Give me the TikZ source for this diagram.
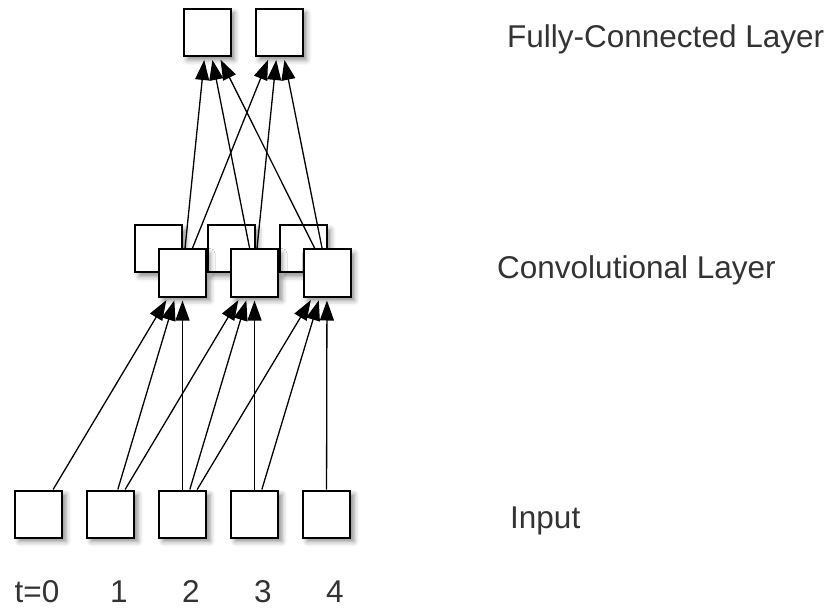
\documentclass[tikz,border=0pt]{standalone}
\usepackage{fontspec}
\setmainfont{Liberation Sans}
\usetikzlibrary{arrows.meta,shadows.blur}
\tikzset{
  unit_n/.style = {rectangle, draw=black, fill=white, line width=2pt, inner sep=0pt, minimum size=47pt,
    blur shadow={shadow xshift=4pt, shadow yshift=-4pt, shadow blur radius=5pt, shadow opacity=45}},
  link/.style = {-{Triangle[length=20pt,width=14pt]}, line width=1.3pt, shorten >=3pt},
  layer_lbl/.style = {anchor=base west, inner sep=0pt, font=\fontsize{31.5}{31.5}\selectfont, text=black!80},
  step_lbl/.style = {anchor=base, inner sep=0pt, font=\fontsize{31.5}{31.5}\selectfont, text=black!80}
}

\begin{document}
\begin{tikzpicture}[x=1pt, y=-1pt]
	\useasboundingbox (0,0) rectangle (834,609);
	% input row
	\node [unit_n] (in0) at (38.5,514) {};
	\node [unit_n] (in1) at (110.5,514) {};
	\node [unit_n] (in2) at (182.5,514) {};
	\node [unit_n] (in3) at (254.5,514) {};
	\node [unit_n] (in4) at (326.5,514) {};
	% convolutional layer, back and front maps
	\node [unit_n] (cb0) at (158.5,249) {};
	\node [unit_n] (cb1) at (231,249) {};
	\node [unit_n] (cb2) at (303,249) {};
	\node [unit_n] (cf0) at (182.5,273) {};
	\node [unit_n] (cf1) at (254.5,273) {};
	\node [unit_n] (cf2) at (327,273) {};
	% fully-connected layer
	\node [unit_n] (fc0) at (207,32.5) {};
	\node [unit_n] (fc1) at (279,32.5) {};

	% receptive fields of width 3
	\draw [link] (in0) -- (cf0);
	\draw [link] (in1) -- (cf0);
	\draw [link] (in2) -- (cf0);
	\draw [link] (in1) -- (cf1);
	\draw [link] (in2) -- (cf1);
	\draw [link] (in3) -- (cf1);
	\draw [link] (in2) -- (cf2);
	\draw [link] (in3) -- (cf2);
	\draw [link] (in4) -- (cf2);
	% dense connections
	\draw [link] (cf0) -- (fc0);
	\draw [link] (cf1) -- (fc0);
	\draw [link] (cf2) -- (fc0);
	\draw [link] (cf0) -- (fc1);
	\draw [link] (cf1) -- (fc1);
	\draw [link] (cf2) -- (fc1);

	% labels
	\node [layer_lbl] (lfc) at (507,48) {Fully-Connected Layer};
	\node [layer_lbl] (lconv) at (497,278) {Convolutional Layer};
	\node [layer_lbl] (lin) at (510,528) {Input};
	\node [step_lbl] (t0) at (37,602) {t=0};
	\node [step_lbl] (t1) at (119,602) {1};
	\node [step_lbl] (t2) at (191,602) {2};
	\node [step_lbl] (t3) at (263,602) {3};
	\node [step_lbl] (t4) at (335,602) {4};
\end{tikzpicture}
\end{document}
